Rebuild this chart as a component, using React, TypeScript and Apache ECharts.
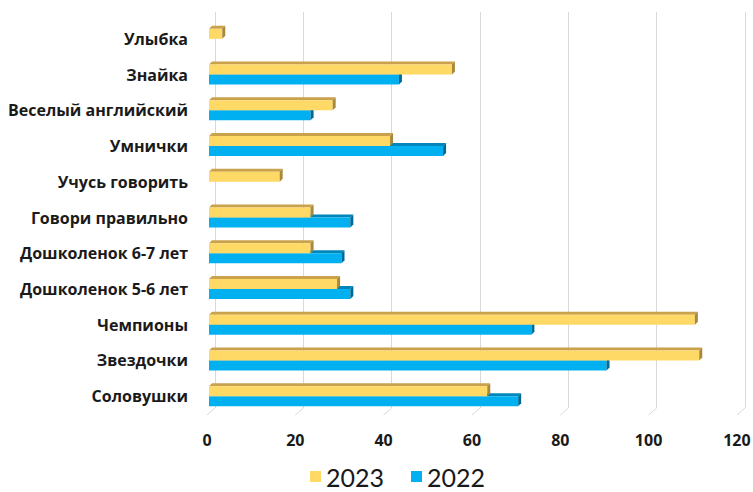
import React, { useEffect, useRef } from "react";
import * as echarts from "echarts";

const categories = [
  "Улыбка",
  "Знайка",
  "Веселый английский",
  "Умнички",
  "Учусь говорить",
  "Говори правильно",
  "Дошколенок 6-7 лет",
  "Дошколенок 5-6 лет",
  "Чемпионы",
  "Звездочки",
  "Соловушки",
];
const values2023 = [3, 55, 28, 41, 16, 23, 23, 29, 110, 111, 63];
const values2022 = [0, 43, 23, 53, 0, 32, 30, 32, 73, 90, 70];
const xTicks = [0, 20, 40, 60, 80, 100, 120];
const seriesNames = ["2023", "2022"];

const FONT = "'Open Sans', sans-serif";
const LEGEND_FONT = "Lato, 'Open Sans', sans-serif";
const TEXT = "#1a1a1a";
const YELLOW = { front: "#FFD966", top: "#C9A24B", side: "#A8883A" };
const BLUE = { front: "#00B0F0", top: "#0086BA", side: "#006A96" };

function makeRenderer(colors: { front: string; top: string; side: string }, upper: boolean) {
  return (params: any, api: any) => {
    const v = api.value(0);
    const idx = api.value(1);
    if (!v) return { type: "group", children: [] };
    const start = api.coord([0, idx]);
    const end = api.coord([v, idx]);
    const band = api.size([0, 1])[1];
    const h = band * 0.28;
    const cy = start[1];
    const y0 = upper ? cy - h : cy;
    const y1 = y0 + h;
    const x0 = start[0];
    const x1 = end[0];
    const dx = 3;
    const dy = 3;
    return {
      type: "group",
      children: [
        {
          type: "polygon",
          shape: { points: [[x0, y0], [x1, y0], [x1 + dx, y0 - dy], [x0 + dx, y0 - dy]] },
          style: { fill: colors.top },
        },
        {
          type: "rect",
          shape: { x: x0, y: y0, width: x1 - x0, height: h },
          style: { fill: colors.front },
        },
        {
          type: "polygon",
          shape: { points: [[x1, y0], [x1 + dx, y0 - dy], [x1 + dx, y1 - dy], [x1, y1]] },
          style: { fill: colors.side },
        },
      ],
    };
  };
}

export default function App() {
  const ref = useRef<HTMLDivElement>(null);
  useEffect(() => {
    if (!ref.current) return;
    const chart = echarts.init(ref.current, undefined, { renderer: "svg" });
    chart.setOption({
      animation: false,
      backgroundColor: "#ffffff",
      textStyle: { fontFamily: FONT },
      legend: {
        data: seriesNames,
        left: 305,
        top: 459,
        icon: "rect",
        itemWidth: 11,
        itemHeight: 11,
        itemGap: 27,
        textStyle: { fontSize: 25, lineHeight: 25, color: TEXT, fontFamily: LEGEND_FONT },
      },
      grid: [
        { left: 215, right: 8, top: 12, bottom: 84, outerBoundsMode: "none" },
        { left: 209, right: 14, top: 21, bottom: 78, outerBoundsMode: "none" },
      ],
      xAxis: [
        {
          gridIndex: 0,
          type: "value",
          min: 0,
          max: 120,
          interval: 20,
          axisLabel: { show: false },
          axisLine: { show: false },
          axisTick: { show: false },
          splitLine: { show: true, lineStyle: { color: "#D9D9D9", width: 1 } },
        },
        {
          gridIndex: 1,
          type: "value",
          min: 0,
          max: 120,
          interval: 20,
          axisLabel: { show: false },
          axisLine: { show: false },
          axisTick: { show: false },
          splitLine: { show: false },
        },
      ],
      yAxis: [
        { gridIndex: 0, type: "value", show: false, min: 0, max: 1 },
        {
          gridIndex: 1,
          type: "category",
          inverse: true,
          data: categories,
          axisLine: { show: false },
          axisTick: { show: false },
          axisLabel: {
            fontSize: 16,
            fontWeight: "bold",
            color: TEXT,
            fontFamily: FONT,
            margin: 21,
            padding: [8, 0, 0, 0],
          },
        },
      ],
      series: [
        {
          name: "floor",
          type: "custom",
          xAxisIndex: 0,
          yAxisIndex: 0,
          silent: true,
          data: xTicks.map((t) => [t, 0]),
          encode: { x: 0, y: 1 },
          renderItem: (params: any, api: any) => {
            const p = api.coord([api.value(0), 0]);
            const cs = params.coordSys;
            const bottom = cs.y + cs.height;
            return {
              type: "line",
              shape: { x1: p[0], y1: bottom, x2: p[0] - 8, y2: bottom + 7 },
              style: { stroke: "#D9D9D9", lineWidth: 1 },
            };
          },
        },
        {
          name: "ticks",
          type: "custom",
          xAxisIndex: 1,
          yAxisIndex: 1,
          silent: true,
          clip: false,
          data: xTicks.map((t) => [t, 0]),
          encode: { x: 0, y: 1 },
          renderItem: (params: any, api: any) => {
            const v = api.value(0);
            const p = api.coord([v, 0]);
            const cs = params.coordSys;
            const bottom = cs.y + cs.height;
            const label = String(v);
            return {
              type: "text",
              x: p[0] - 2 - label.length * 4.6,
              y: bottom + 26,
              style: {
                text: label,
                align: "left",
                verticalAlign: "middle",
                fontSize: 16,
                fontWeight: "bold",
                fontFamily: FONT,
                fill: TEXT,
              },
            };
          },
        },
        {
          name: "2022",
          type: "custom",
          xAxisIndex: 1,
          yAxisIndex: 1,
          itemStyle: { color: BLUE.front },
          data: values2022.map((v, i) => [v, i]),
          encode: { x: 0, y: 1 },
          renderItem: makeRenderer(BLUE, false),
        },
        {
          name: "2023",
          type: "custom",
          xAxisIndex: 1,
          yAxisIndex: 1,
          itemStyle: { color: YELLOW.front },
          data: values2023.map((v, i) => [v, i]),
          encode: { x: 0, y: 1 },
          renderItem: makeRenderer(YELLOW, true),
        },
      ],
    });
    return () => chart.dispose();
  }, []);
  return <div ref={ref} style={{ width: 753, height: 492, position: "absolute", left: 0, top: 0 }} />;
}
